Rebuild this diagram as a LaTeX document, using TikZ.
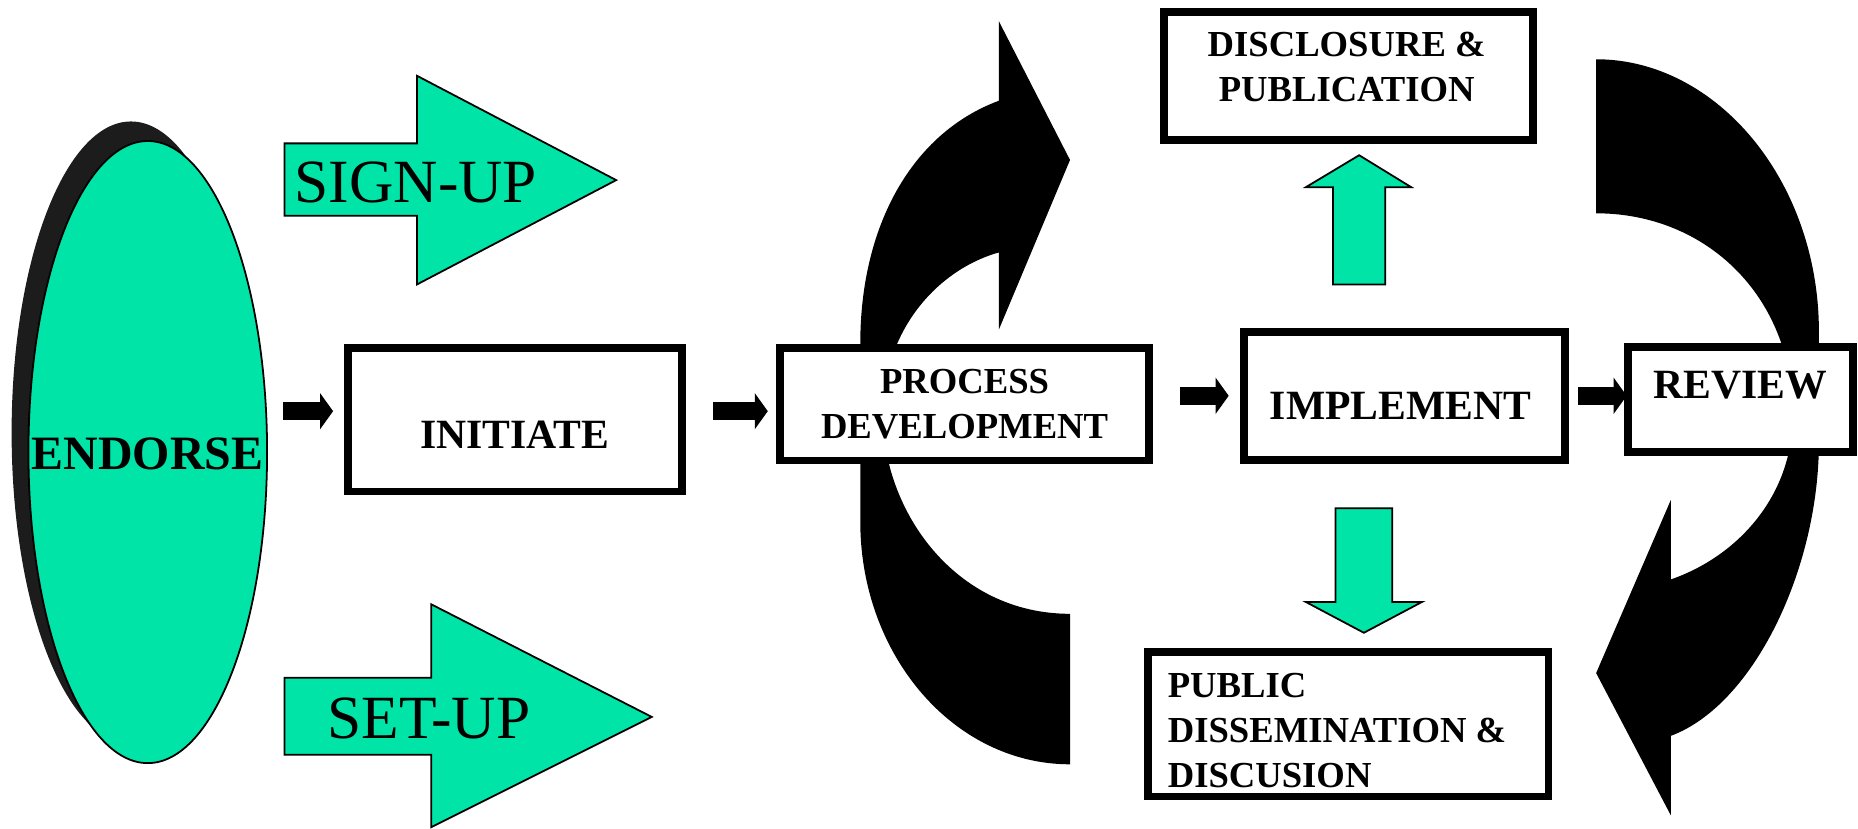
\documentclass[tikz,border=0pt]{standalone}
\usepackage{fontspec}
\setmainfont{Liberation Serif}
\usetikzlibrary{arrows.meta}

\definecolor{mint}{RGB}{0,228,168}
\definecolor{rimdark}{RGB}{28,28,28}

\tikzset{
 stagebox/.style={draw,line width=1.3mm,fill=white,inner sep=0pt,outer sep=0pt},
 bigtext/.style={font=\fontsize{20}{24}\selectfont\bfseries,inner sep=0pt},
 smalltext/.style={font=\fontsize{17.6}{21.7}\selectfont\bfseries,align=center,inner sep=0pt},
 armtext/.style={font=\fontsize{29.5}{35}\selectfont,inner sep=0pt},
 blockarrow/.style={draw,line width=0.3mm,fill=mint,line join=miter},
 steparrow/.style={line width=3mm,-{Triangle[length=2.2mm,width=6mm]}},
 loopband/.style={fill=black}
}

\begin{document}
\begin{tikzpicture}[x=0.2mm,y=-0.2mm]
 \useasboundingbox (0,0) rectangle (1568,699);

 \fill[loopband] (903,645) .. controls (805,645) and (726,553) .. (726,440)
   -- (726,290) .. controls (726,190) and (770,112) .. (843,85)
   -- (843,18) -- (903,135) -- (843,278) -- (843,213)
   .. controls (790,228) and (745,280) .. (745,350)
   .. controls (745,430) and (805,518) .. (903,518) -- cycle;
 \fill[loopband] (1347,50) .. controls (1449,50) and (1535,153) .. (1535,280)
   -- (1535,373) .. controls (1535,480) and (1480,595) .. (1410,621)
   -- (1410,688) -- (1347,568) -- (1410,422) -- (1410,489)
   .. controls (1465,470) and (1513,420) .. (1513,350)
   .. controls (1513,250) and (1440,180) .. (1347,180) -- cycle;

 \fill[rimdark] (110.5,365) ellipse [x radius=100.7,y radius=262.5];
 \draw[fill=mint,line width=0.3mm] (124.7,381.5) ellipse [x radius=100.7,y radius=262.5];
 \node[font=\fontsize{23}{27}\selectfont\bfseries,inner sep=0pt] (endorse) at (124.5,383) {ENDORSE};

 \draw[blockarrow] (240,121) -- (352,121) -- (352,64) -- (520,152) -- (352,240) -- (352,182) -- (240,182) -- cycle;
 \node[armtext] (signup) at (351,154) {SIGN-UP};
 \draw[blockarrow] (240,572) -- (364,572) -- (364,510) -- (550,605) -- (364,698) -- (364,637) -- (240,637) -- cycle;
 \node[armtext] (setup) at (362,606.5) {SET-UP};

 \node[stagebox,minimum width=56.4mm,minimum height=24.26mm] (initiate) at (434.4,354.1) {};
 \node[bigtext] (initiate label) at (434.4,366.5) {INITIATE};
 \node[stagebox,smalltext,minimum width=62.3mm,minimum height=19mm] (process) at (814,341) {PROCESS\\DEVELOPMENT};
 \node[stagebox,minimum width=54.2mm,minimum height=21.64mm] (implement) at (1185.3,334.3) {};
 \node[bigtext] (implement label) at (1182,342.6) {IMPLEMENT};
 \node[stagebox,minimum width=38mm,minimum height=17.7mm] (review) at (1468.8,337.2) {};
 \node[bigtext] (review label) at (1468.6,324.7) {REVIEW};
 \node[stagebox,minimum width=62.3mm,minimum height=21.64mm] (disclosure) at (1138,64.3) {};
 \node[smalltext] (disclosure label) at (1136.5,56.5) {DISCLOSURE \&\\PUBLICATION};
 \node[stagebox,minimum width=67.6mm,minimum height=24.4mm] (public) at (1137.7,611.2) {};
 \node[smalltext,align=left,anchor=west] (public label) at (985.2,616.6) {PUBLIC\\DISSEMINATION \&\\DISCUSION};

 \coordinate (to initiate) at (239,347);
 \coordinate (to process) at (602,347);
 \coordinate (to implement) at (996,334);
 \coordinate (to review) at (1332,334);
 \draw[steparrow,shorten >=2.46mm] (to initiate) -- (to initiate -| initiate.west);
 \draw[steparrow,shorten >=2.06mm] (to process) -- (to process -| process.west);
 \draw[steparrow,shorten >=2.58mm] (to implement) -- (to implement -| implement.west);
 \draw[steparrow,shorten >=0.2mm] (to review) -- (to review -| review.west);

 \draw[blockarrow] (1125,240) -- (1125,158) -- (1102,158) -- (1147,131) -- (1191,158) -- (1169,158) -- (1169,240) -- cycle;
 \draw[blockarrow] (1127,429) -- (1175,429) -- (1175,508) -- (1200,508) -- (1151,534) -- (1102,508) -- (1127,508) -- cycle;
\end{tikzpicture}
\end{document}
